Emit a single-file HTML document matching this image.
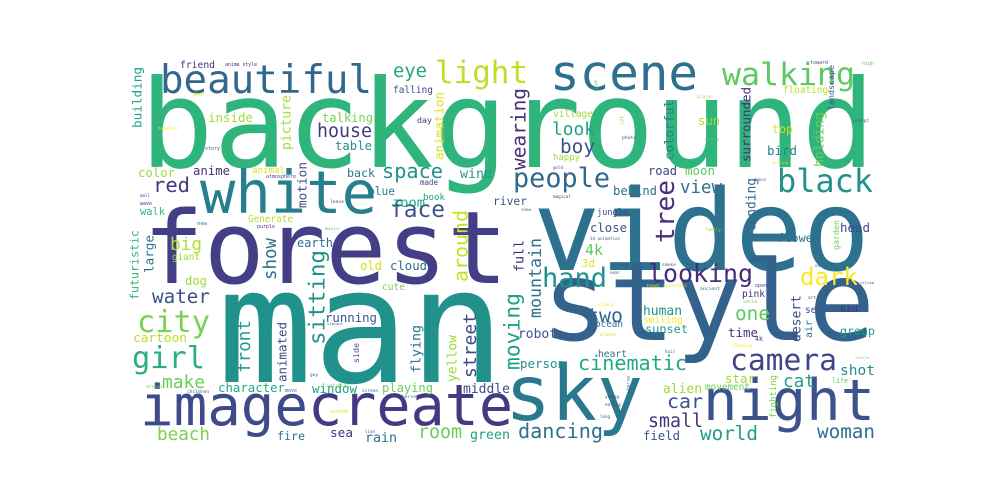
<!DOCTYPE html>
<html><head><meta charset="utf-8"><title>Word cloud</title>
<style>
html,body{margin:0;padding:0;background:#fff;width:1000px;height:500px;overflow:hidden}
svg{display:block}
text{font-family:"DejaVu Sans Mono","Liberation Mono",monospace}
</style></head>
<body>
<svg id="cloud" width="1000" height="500" viewBox="0 0 1000 500" xmlns="http://www.w3.org/2000/svg">
<rect x="0" y="0" width="1000" height="500" fill="#ffffff"/>
</svg>
<script>
// words: text, x, baseline y (or bottom y for vertical), length px, colour, vertical flag
const words = [
["background",140,167,735,"#2fb47c",0],
["forest",143,283,365,"#433e85",0],
["video",533,270,337,"#2c728e",0],
["man",217,382,288,"#21918c",0],
["style",542,340,333,"#33638d",0],
["sky",505,420,138,"#2a788e",0],
["night",703,420,172,"#3b528b",0],
["image",140,425,168,"#3e4a89",0],
["create",308,425,205,"#443983",0],
["scene",550,90,148,"#2c728e",0],
["beautiful",160,93,212,"#31688e",0],
["white",200,213,177,"#277f8e",0],
["light",435,83,93,"#bddf26",0],
["walking",722,85,133,"#5ec962",0],
["black",777,192,96,"#21918c",0],
["people",513,187,97,"#31688e",0],
["eye",393,77,34,"#22a884",0],
["house",317,137,55,"#443983",0],
["space",382,178,61,"#21918c",0],
["face",390,217,55,"#3b528b",0],
["red",153,192,37,"#443983",0],
["color",138,177,37,"#a0da39",0],
["anime",193,175,37,"#46337e",0],
["inside",208,122,45,"#a0da39",0],
["talking",322,122,51,"#7ad151",0],
["table",335,150,37,"#21918c",0],
["back",347,177,28,"#2c728e",0],
["blue",368,195,27,"#2a788e",0],
["zoom",392,207,33,"#20a486",0],
["wind",460,178,32,"#1f9e89",0],
["book",423,200,22,"#1f9e89",0],
["made",420,185,18,"#414487",0],
["day",417,123,15,"#414487",0],
["falling",393,93,40,"#414487",0],
["friend",180,68,35,"#472d7b",0],
["big",170,250,32,"#b5de2b",0],
["walk",140,215,25,"#35b779",0],
["Generate",248,222,45,"#b8de29",0],
["earth",297,247,36,"#2c728e",0],
["animal",252,173,33,"#d8e219",0],
["look",552,135,43,"#1fa187",0],
["boy",560,153,35,"#3b528b",0],
["village",553,117,40,"#a0da39",0],
["happy",553,160,27,"#a0da39",0],
["sun",698,125,22,"#a0da39",0],
["top",772,133,21,"#d2e21b",0],
["bird",767,155,30,"#26828e",0],
["floating",783,93,45,"#bddf26",0],
["road",648,175,29,"#414487",0],
["moon",685,175,30,"#5ec962",0],
["view",680,193,42,"#2c728e",0],
["behind",613,195,44,"#2c728e",0],
["river",493,205,34,"#3b528b",0],
["jungle",597,215,31,"#3e4a89",0],
["close",590,232,37,"#3b528b",0],
["head",840,232,30,"#3e4a89",0],
["flower",777,242,43,"#2c728e",0],
["4k",585,255,18,"#5ec962",0],
["3d",582,267,13,"#d8e219",0],
["hand",542,287,65,"#21918c",0],
["two",587,322,36,"#31688e",0],
["one",735,320,35,"#5ec962",0],
["looking",648,282,105,"#472d7b",0],
["dark",800,285,58,"#fde725",0],
["human",643,315,39,"#21918c",0],
["smiling",643,323,40,"#fde725",0],
["sunset",645,333,43,"#1f9e89",0],
["ocean",595,327,28,"#2c728e",0],
["robot",518,338,39,"#3b528b",0],
["time",728,337,30,"#46337e",0],
["pink",742,297,23,"#472d7b",0],
["see",805,313,17,"#3b528b",0],
["kid",840,312,18,"#46337e",0],
["group",840,335,35,"#1f9e89",0],
["shot",840,375,35,"#21918c",0],
["camera",730,370,107,"#414487",0],
["cinematic",578,370,109,"#22a884",0],
["person",520,368,45,"#21918c",0],
["heart",598,357,29,"#2c728e",0],
["star",725,383,30,"#a0da39",0],
["alien",663,393,39,"#a0da39",0],
["movement",705,390,45,"#6ccd5a",0],
["cat",783,387,32,"#1fa187",0],
["life",832,383,16,"#5ec962",0],
["car",667,408,36,"#3b528b",0],
["small",648,427,55,"#46337e",0],
["dancing",518,438,85,"#2c728e",0],
["field",643,440,37,"#3b528b",0],
["world",700,440,58,"#1f9e89",0],
["woman",817,438,58,"#2c728e",0],
["city",137,332,73,"#7ad151",0],
["girl",132,368,73,"#29af7f",0],
["water",152,303,58,"#3b528b",0],
["dog",185,285,22,"#a0da39",0],
["giant",172,260,28,"#a0da39",0],
["cartoon",133,342,54,"#bddf26",0],
["make",162,388,43,"#6ccd5a",0],
["beach",157,440,53,"#7ad151",0],
["character",218,392,67,"#22a884",0],
["running",325,322,52,"#3b528b",0],
["old",360,270,22,"#d8e219",0],
["cloud",390,270,37,"#2c728e",0],
["cute",382,290,23,"#7ad151",0],
["window",312,393,45,"#1fa188",0],
["playing",382,392,51,"#6ccd5a",0],
["middle",463,393,47,"#3e4a89",0],
["fire",277,440,28,"#2c728e",0],
["sea",330,437,23,"#46337e",0],
["rain",365,442,32,"#2c728e",0],
["room",418,438,44,"#6ccd5a",0],
["green",470,439,40,"#1fa187",0],
// vertical words (x = right edge, y = bottom)
["tree",677,243,63,"#472d7b",1],
["wearing",528,170,82,"#472d7b",1],
["colorful",675,160,60,"#2a788e",1],
["surrounded",752,162,75,"#472d7b",1],
["holding",825,167,55,"#6ccd5a",1],
["standing",757,240,62,"#31688e",1],
["desert",802,342,47,"#3e4a89",1],
["air",813,338,18,"#2c728e",1],
["moving",522,370,77,"#1fa187",1],
["mountain",543,318,80,"#2c728e",1],
["fighting",777,418,43,"#7ad151",1],
["full",525,272,32,"#472d7b",1],
["futuristic",140,300,70,"#35b779",1],
["large",155,273,38,"#2c728e",1],
["show",278,280,42,"#2c728e",1],
["front",252,373,53,"#1f9e89",1],
["animated",288,382,60,"#3e4a89",1],
["sitting",327,345,95,"#21918c",1],
["side",360,363,20,"#3e4a89",1],
["flying",422,373,48,"#2c728e",1],
["street",478,378,65,"#3e4a89",1],
["yellow",458,382,47,"#a0da39",1],
["around",470,282,72,"#c8e020",1],
["building",143,128,61,"#1fa187",1],
["picture",292,150,55,"#a5db36",1],
["motion",308,208,46,"#3e4a89",1],
["animation",445,160,68,"#dde318",1],
["love",598,92,12,"#5ec962",1],
["lot",624,125,9,"#7ad151",1],
["landscape",835,110,45,"#3b528b",1],
["garden",840,250,30,"#6ccd5a",1],
["horse",630,390,14,"#2c728e",1],
// tiny words
["anime style",225,66,32,"#472d7b",0],
["together",158,130,20,"#fde725",0],
["story",205,150,15,"#3b528b",0],
["door",193,96,12,"#d8e219",0],
["atmosphere",266,178,30,"#414487",0],
["mall",140,197,10,"#414487",0],
["wave",140,205,12,"#472d7b",0],
["leave",330,203,14,"#3b528b",0],
["new",197,225,10,"#2c728e",0],
["purple",257,228,18,"#472d7b",0],
["music",325,230,14,"#5ec962",0],
["toward",810,64,18,"#3b528b",0],
["high",862,65,12,"#6ccd5a",0],
["place",697,98,14,"#a0da39",0],
["photo",622,139,14,"#3b528b",0],
["movie",705,141,14,"#5ec962",0],
["prompt",853,122,16,"#2c728e",0],
["gold",553,169,10,"#3b528b",0],
["magical",553,198,18,"#414487",0],
["snow",521,211,10,"#2c728e",0],
["dance",754,181,12,"#3b528b",0],
["driving",772,164,16,"#d8e219",0],
["family",705,231,16,"#a0da39",0],
["3d animation",590,240,30,"#2c728e",0],
["shadow",612,266,16,"#3b528b",0],
["smoke",662,266,14,"#2c728e",0],
["near",610,274,10,"#3b528b",0],
["hyper realistic",647,287,40,"#d8e219",0],
["ancient",700,290,20,"#2c728e",0],
["open",755,287,12,"#414487",0],
["outside",815,267,18,"#2c728e",0],
["filled",860,284,14,"#3b528b",0],
["slowly",598,306,16,"#fde725",0],
["art",808,299,8,"#3b528b",0],
["smile",743,303,14,"#6ccd5a",0],
["planet",600,336,16,"#d8e219",0],
["4k",755,341,8,"#3b528b",0],
["showing",732,347,20,"#fde725",0],
["hair",665,353,10,"#2c728e",0],
["little",855,359,14,"#6ccd5a",0],
["young",605,398,14,"#3b528b",0],
["eating",605,406,16,"#3b528b",0],
["long",600,418,10,"#3b528b",0],
["dragon",146,388,16,"#7ad151",0],
["watching",327,387,22,"#6ccd5a",0],
["horse",402,398,14,"#2c728e",0],
["vibrant",327,325,16,"#2c728e",0],
["children",187,393,22,"#3b528b",0],
["move",285,392,12,"#2c728e",0],
["screen",362,392,16,"#2c728e",0],
["lion",365,433,10,"#3b528b",0],
["second",330,413,18,"#d8e219",0],
["guy",310,376,8,"#3b528b",0]
];

const svg = document.getElementById('cloud');
const NS = 'http://www.w3.org/2000/svg';
for (const w of words) {
  const txt = w[0], x = w[1], y = w[2], len = w[3], col = w[4], vert = w[5];
  const size = len / (0.602 * txt.length);
  const t = document.createElementNS(NS, 'text');
  
  
  t.setAttribute('font-size', size.toFixed(2));
  t.setAttribute('fill', col);
  t.setAttribute('textLength', len);
  t.setAttribute('lengthAdjust', 'spacingAndGlyphs');
  if (vert) {
    const bx = x - 0.12 * size;
    t.setAttribute('transform', 'translate(' + bx.toFixed(1) + ',' + y + ') rotate(-90)');
    t.setAttribute('x', 0);
    t.setAttribute('y', 0);
  } else {
    t.setAttribute('x', x);
    t.setAttribute('y', y);
  }
  t.textContent = txt;
  svg.appendChild(t);
}
</script>
</body></html>
